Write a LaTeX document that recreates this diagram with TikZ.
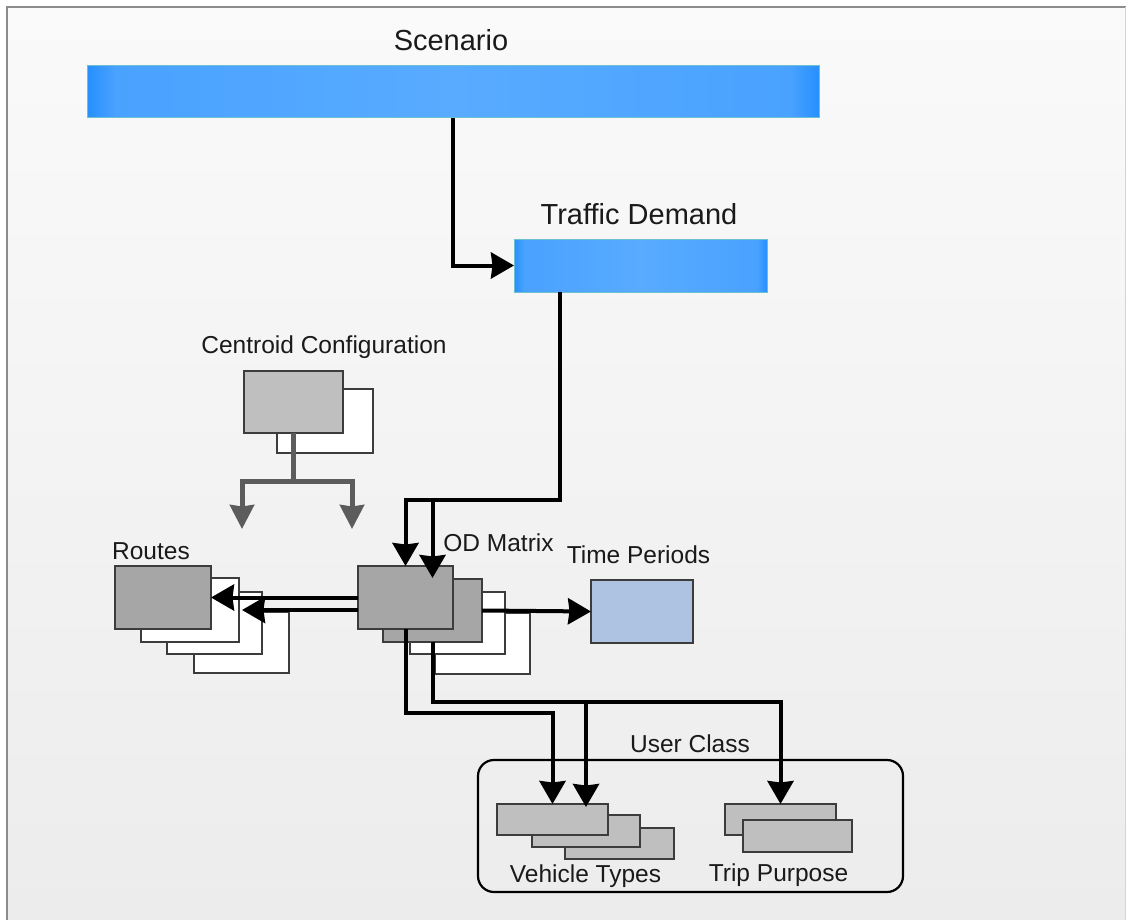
\documentclass[tikz,border=0pt]{standalone}
\usepackage{fontspec}
\setmainfont{Liberation Sans}
\usetikzlibrary{arrows.meta,calc}
\definecolor{bdark}{HTML}{2690FF}
\definecolor{bmain}{HTML}{4AA2FF}
\definecolor{blight}{HTML}{58ABFF}
\definecolor{bedge}{HTML}{6CC0D0}
\definecolor{boxline}{HTML}{3C3C3C}
\definecolor{darkbox}{HTML}{A6A6A6}
\definecolor{lightbox}{HTML}{BFBFBF}
\definecolor{tpfill}{HTML}{ADC3E1}
\definecolor{garrow}{HTML}{5C5C5C}
\definecolor{txt}{HTML}{1A1A1A}
\definecolor{bgtop}{HTML}{FAFAFA}
\definecolor{bgbot}{HTML}{ECECEC}
\definecolor{bordercol}{HTML}{8C8C8C}
\definecolor{rightedge}{HTML}{D4D4D4}
\pgfdeclarehorizontalshading{barshade}{100bp}{color(0bp)=(bdark); color(25bp)=(bdark); color(27bp)=(bmain); color(50bp)=(blight); color(73bp)=(bmain); color(75bp)=(bdark); color(100bp)=(bdark)}
\newcommand\boxcorners[6]{\node[#1, minimum width={#5-#3}, minimum height={#6-#4}] (#2) at ({(#3+#5)/2},{(#4+#6)/2}) {};}
\begin{document}
\begin{tikzpicture}[x=1pt,y=-1pt,
  bar/.style={shading=barshade, draw=bedge, line width=1pt, inner sep=0pt, outer sep=0pt},
  bx/.style={draw=boxline, line width=2pt, inner sep=0pt, outer sep=0pt},
  dbox/.style={bx, fill=darkbox},
  lbox/.style={bx, fill=lightbox},
  wbox/.style={bx, fill=white},
  tbox/.style={bx, fill=tpfill},
  uclass/.style={draw=black, line width=2.2pt, rounded corners=16pt, inner sep=0pt, outer sep=0pt},
  lbl/.style={anchor=base, text=txt, font=\fontsize{24.5}{28}\selectfont, inner sep=0pt},
  biglbl/.style={anchor=base, text=txt, font=\fontsize{29}{33}\selectfont, inner sep=0pt},
  conn/.style={line width=4pt, black, line join=miter, -{Stealth[length=23pt,width=26pt,inset=1.5pt]}},
  gplain/.style={line width=5pt, garrow},
  gconn/.style={line width=5pt, garrow, line join=miter, -{Stealth[length=24pt,width=24pt,inset=1.5pt]}},
]
\useasboundingbox (0,0) rectangle (1126,920);
% background
\fill[white] (0,0) rectangle (1126,920);
\shade[top color=bgtop, bottom color=bgbot] (7,7) rectangle (1126,920);
\draw[bordercol, line width=2.5pt] (7,920) -- (7,7) -- (1126,7);
\draw[rightedge, line width=1pt] (1125,7) -- (1125,920);

% top bars
\boxcorners{bar}{scen}{87}{66}{819}{118}
\boxcorners{bar}{td}{514}{239}{767}{292}

% centroid configuration
\boxcorners{wbox}{cc2}{277}{389}{373}{453}
\boxcorners{lbox}{cc1}{244}{371}{343}{433}

% routes
\boxcorners{wbox}{rt4}{194}{612}{289}{673}
\boxcorners{wbox}{rt3}{167}{592}{262}{654}
\boxcorners{wbox}{rt2}{141}{578}{239}{642}
\boxcorners{dbox}{rt1}{115}{566}{211}{629}

% OD matrix
\boxcorners{wbox}{od4}{435}{613}{530}{674}
\boxcorners{wbox}{od3}{410}{592}{505}{654}
\boxcorners{dbox}{od2}{383}{579}{482}{642}
\boxcorners{dbox}{od1}{358}{566}{453}{629}

% time periods
\boxcorners{tbox}{tp}{591}{580}{693}{643}

% user class
\boxcorners{uclass}{uc}{478}{760}{903}{892}
\boxcorners{lbox}{vt3}{565}{828}{674}{859}
\boxcorners{lbox}{vt2}{532}{815}{640}{847}
\boxcorners{lbox}{vt1}{497}{804}{608}{835}
\boxcorners{lbox}{tpb}{725}{804}{836}{835}
\boxcorners{lbox}{tpf}{743}{820}{852}{852}

% coordinates
\coordinate (j1) at (560,500);
\coordinate (j2) at (432.5,500);
\coordinate (odin) at (432.5,578);
\coordinate (j3) at (552.5,713);
\coordinate (j4) at (780.5,702);
\coordinate (j5) at (586,702);
\coordinate (vtin) at (586,807);
\coordinate (cj) at (293.5,481);
\coordinate (ca1) at (242,529);
\coordinate (ca2) at (352,529);

% connectors
\draw[conn] (scen.south) |- (td.west);
\draw[conn] (td.south -| j1) -- (j1) -| (od1.north);
\draw[conn] (j2) -- (odin);
\draw[conn] (od1.west) -- (rt1.east);
\draw[conn] (od1.west |- rt2.east) -- ([xshift=3pt]rt2.east);
\draw[conn] (od2.east) -- (tp.west);
\draw[conn] (od1.south) |- (j3) -- (vt1.north);
\draw[conn] (od2.south) |- (j4) -- (tpb.north);
\draw[conn] (j5) -- (vtin);
\draw[gplain] (cc1.south) -- (cj);
\draw[gconn] (cj) -| (ca1);
\draw[gconn] (cj) -| (ca2);

% labels
\node[biglbl] (lscen) at (451,51) {Scenario};
\node[biglbl] (ltd) at (639,224) {Traffic Demand};
\node[lbl] (lcc) at (324,353) {Centroid Configuration};
\node[lbl] (lrt) at (151,559) {Routes};
\node[lbl] (lod) at (498.5,551) {OD Matrix};
\node[lbl] (ltp) at (638.5,563) {Time Periods};
\node[lbl] (luc) at (690,752) {User Class};
\node[lbl] (lvt) at (585.5,882) {Vehicle Types};
\node[lbl] (ltpu) at (778.5,881) {Trip Purpose};
\end{tikzpicture}
\end{document}
